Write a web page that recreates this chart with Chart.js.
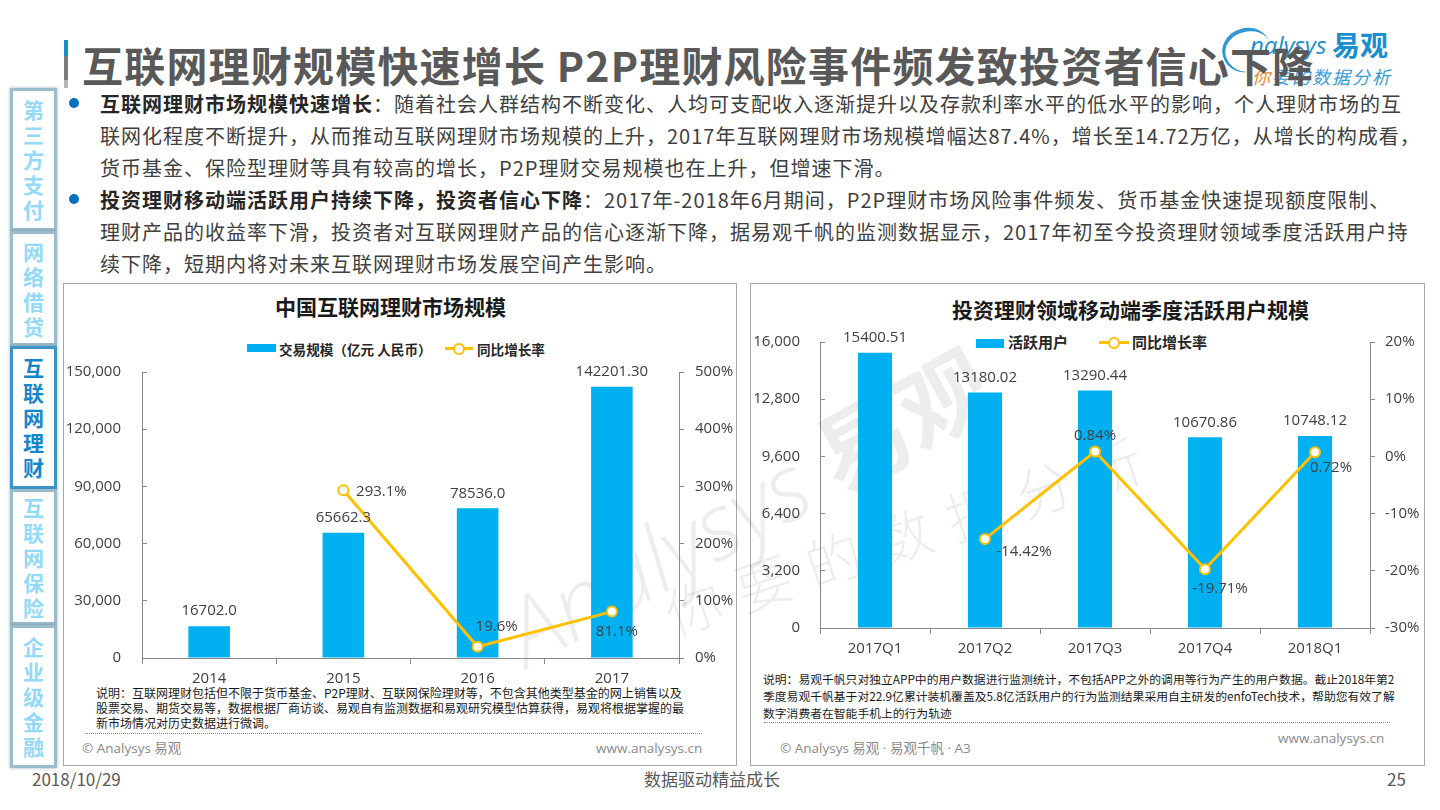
<!DOCTYPE html>
<html lang="zh-CN">
<head>
<meta charset="utf-8">
<script src="https://cdn.jsdelivr.net/npm/chart.js@4.4.1/dist/chart.umd.min.js"></script>
<style>
  html, body { margin:0; padding:0; background:#fff; }
  body { width:1440px; height:810px; position:relative; overflow:hidden;
         font-family:"Noto Sans CJK SC","Open Sans",sans-serif; color:#404040; }
  .abs { position:absolute; white-space:nowrap; }
  .title { left:82px; top:38px; font-size:41px; line-height:52px; font-weight:700; color:#595959; letter-spacing:1.2px; }
  .accent { position:absolute; left:64px; width:4px; }
  .body-line { left:100px; font-size:20px; line-height:32px; letter-spacing:1px; color:#404040; }
  .body-line b { color:#262626; font-weight:700; }
  .bullet { position:absolute; left:69px; width:10px; height:10px; border-radius:50%; background:#0070C0; }
  .tab { position:absolute; left:10px; width:41px; background:#fff; border:3px solid #9bbccb;
         box-shadow:0 0 3px rgba(90,130,150,0.6); display:flex; flex-direction:column; align-items:center; justify-content:center;
         font-size:21px; line-height:25px; font-weight:700; color:#93d9f8; }
  .tab.active { border-color:#3c95c6; color:#1487cc; }
  .panel { position:absolute; border:1px solid #a6a6a6; background:transparent; }
  .ctitle { font-size:21px; line-height:28px; font-weight:700; color:#1a1a1a; }
  .legtxt { font-weight:700; color:#262626; }
  .note { font-size:12px; line-height:15px; color:#1a1a1a; }
  .dots { position:absolute; height:0; border-top:1px dotted #8c8c8c; }
  .foot { font-size:13.5px; line-height:18px; color:#8a8a8a; font-family:"Open Sans","Noto Sans CJK SC",sans-serif; }
  .slidefoot { font-size:17px; line-height:22px; color:#595959; }
  canvas { position:absolute; z-index:2; }
  .wm { position:absolute; z-index:1; color:rgba(0,0,0,0.07); white-space:nowrap; transform-origin:0 0; }
</style>
</head>
<body>

<!-- title -->
<div class="accent" style="top:40px;height:16px;background:#1a8fd0"></div>
<div class="accent" style="top:56px;height:24px;background:#7a7a7a"></div>
<div class="accent" style="top:80px;height:8px;background:#b5b5b5"></div>

<!-- logo -->
<div class="abs" style="left:1222px;top:28px;width:46px;height:40px;border-top:4px solid #1a8fd0;border-left:3px solid #1a8fd0;border-radius:50% 50% 0 50%;transform:rotate(-18deg);opacity:0.9"></div>
<div class="abs" style="left:1250px;top:30px;font-size:24px;line-height:30px;font-style:italic;color:#1a8fd0;font-family:'Open Sans',sans-serif">nalysys</div>
<div class="abs" style="left:1332px;top:26px;font-size:28px;line-height:36px;font-weight:700;color:#1a8fd0">易观</div>
<div class="abs" style="left:1252px;top:64px;font-size:18px;line-height:24px;letter-spacing:2px;color:#3a9ad8;font-style:italic"><span style="color:#f08a1c">你</span>要的数据分析</div>

<div class="abs title">互联网理财规模快速增长 P2P理财风险事件频发致投资者信心下降</div>

<!-- sidebar -->
<div class="tab" style="top:88px;height:137px">第<br>三<br>方<br>支<br>付</div>
<div class="tab" style="top:231px;height:109px">网<br>络<br>借<br>贷</div>
<div class="tab active" style="top:346px;height:137px">互<br>联<br>网<br>理<br>财</div>
<div class="tab" style="top:489px;height:130px">互<br>联<br>网<br>保<br>险</div>
<div class="tab" style="top:625px;height:137px">企<br>业<br>级<br>金<br>融</div>

<!-- bullets -->
<div class="bullet" style="top:98px"></div>
<div class="bullet" style="top:194px"></div>
<div class="abs body-line" style="top:88px"><b>互联网理财市场规模快速增长</b>：随着社会人群结构不断变化、人均可支配收入逐渐提升以及存款利率水平的低水平的影响，个人理财市场的互</div>
<div class="abs body-line" style="top:120px">联网化程度不断提升，从而推动互联网理财市场规模的上升，2017年互联网理财市场规模增幅达87.4%，增长至14.72万亿，从增长的构成看，</div>
<div class="abs body-line" style="top:152px">货币基金、保险型理财等具有较高的增长，P2P理财交易规模也在上升，但增速下滑。</div>
<div class="abs body-line" style="top:184px"><b>投资理财移动端活跃用户持续下降，投资者信心下降</b>：2017年-2018年6月期间，P2P理财市场风险事件频发、货币基金快速提现额度限制、</div>
<div class="abs body-line" style="top:216px">理财产品的收益率下滑，投资者对互联网理财产品的信心逐渐下降，据易观千帆的监测数据显示，2017年初至今投资理财领域季度活跃用户持</div>
<div class="abs body-line" style="top:248px">续下降，短期内将对未来互联网理财市场发展空间产生影响。</div>

<!-- watermark -->
<div class="wm" style="left:482px;top:585px;transform:rotate(-29deg);font-size:92px;line-height:110px;font-family:'Open Sans',sans-serif;font-style:italic;font-weight:300">Analysys <span style="font-family:'Noto Sans CJK SC';font-style:normal;font-weight:700">易观</span></div>
<div class="wm" style="left:655px;top:580px;transform:rotate(-18.5deg);font-size:56px;line-height:70px;letter-spacing:18px;font-weight:300">你要的数据分析</div>

<!-- left panel -->
<div class="panel" style="left:63px;top:283px;width:672px;height:481px"></div>
<div class="abs ctitle" style="left:275px;top:292px">中国互联网理财市场规模</div>
<div class="abs" style="left:247px;top:344px;width:29px;height:8px;background:#00B0F0"></div>
<div class="abs legtxt" style="left:279px;top:339px;font-size:13.6px;line-height:20px">交易规模（亿元 人民币）</div>
<div class="abs" style="left:445px;top:347px;width:28px;height:3px;background:#FFC000"></div>
<div class="abs" style="left:453px;top:343px;width:8px;height:8px;border:2px solid #FFC000;border-radius:50%;background:#fff"></div>
<div class="abs legtxt" style="left:477px;top:339px;font-size:13.6px;line-height:20px">同比增长率</div>
<canvas id="c1" width="680" height="330" style="left:64px;top:360px"></canvas>
<div class="abs note" style="left:96px;top:685px">说明：互联网理财包括但不限于货币基金、P2P理财、互联网保险理财等，不包含其他类型基金的网上销售以及</div>
<div class="abs note" style="left:96px;top:700px">股票交易、期货交易等，数据根据厂商访谈、易观自有监测数据和易观研究模型估算获得，易观将根据掌握的最</div>
<div class="abs note" style="left:96px;top:715px">新市场情况对历史数据进行微调。</div>
<div class="dots" style="left:85px;top:733px;width:617px"></div>
<div class="abs foot" style="left:82px;top:739px">© Analysys 易观</div>
<div class="abs foot" style="left:596px;top:739px">www.analysys.cn</div>

<!-- right panel -->
<div class="panel" style="left:750px;top:283px;width:673px;height:481px"></div>
<div class="abs ctitle" style="left:952px;top:295px">投资理财领域移动端季度活跃用户规模</div>
<div class="abs" style="left:976px;top:339px;width:28px;height:9px;background:#00B0F0"></div>
<div class="abs legtxt" style="left:1008px;top:332px;font-size:15px;line-height:20px">活跃用户</div>
<div class="abs" style="left:1099px;top:341px;width:30px;height:3px;background:#FFC000"></div>
<div class="abs" style="left:1108px;top:337px;width:8px;height:8px;border:2px solid #FFC000;border-radius:50%;background:#fff"></div>
<div class="abs legtxt" style="left:1132px;top:332px;font-size:15px;line-height:20px">同比增长率</div>
<canvas id="c2" width="680" height="330" style="left:750px;top:330px"></canvas>
<div class="abs note" style="left:763px;top:670px;line-height:17px;font-size:11.8px">说明：易观千帆只对独立APP中的用户数据进行监测统计，不包括APP之外的调用等行为产生的用户数据。截止2018年第2</div>
<div class="abs note" style="left:763px;top:687px;line-height:17px;font-size:11.8px">季度易观千帆基于对22.9亿累计装机覆盖及5.8亿活跃用户的行为监测结果采用自主研发的enfoTech技术，帮助您有效了解</div>
<div class="abs note" style="left:763px;top:704px;line-height:17px;font-size:11.8px">数字消费者在智能手机上的行为轨迹</div>
<div class="dots" style="left:764px;top:722px;width:626px"></div>
<div class="abs foot" style="left:780px;top:739px">© Analysys 易观 · 易观千帆 · A3</div>
<div class="abs foot" style="left:1278px;top:729px">www.analysys.cn</div>

<!-- slide footer -->
<div class="abs slidefoot" style="left:32px;top:768px">2018/10/29</div>
<div class="abs slidefoot" style="left:644px;top:768px">数据驱动精益成长</div>
<div class="abs slidefoot" style="left:1387px;top:768px">25</div>

<script>
// ---------- data ----------
const years = ['2014', '2015', '2016', '2017'];
const marketSize = [16702.0, 65662.3, 78536.0, 142201.30];
const marketSizeDecimals = [1, 1, 1, 2];
const marketGrowth = [null, 293.1, 19.6, 81.1];
const marketSizeTicks = [0, 30000, 60000, 90000, 120000, 150000];
const marketGrowthTicks = [0, 100, 200, 300, 400, 500];

const quarters = ['2017Q1', '2017Q2', '2017Q3', '2017Q4', '2018Q1'];
const activeUsers = [15400.51, 13180.02, 13290.44, 10670.86, 10748.12];
const userGrowth = [null, -14.42, 0.84, -19.71, 0.72];
const userTicks = [0, 3200, 6400, 9600, 12800, 16000];
const userGrowthTicks = [-30, -20, -10, 0, 10, 20];

// ---------- styling ----------
const BAR = '#00B0F0', LINE = '#FFC000', AXIS = '#898989', TXT = '#404040';
const FONT = '"Open Sans", "Noto Sans CJK SC", sans-serif';

const valueLabels = {
  id: 'valueLabels',
  afterDatasetsDraw(chart, args, opts) {
    const ctx = chart.ctx;
    ctx.save();
    ctx.font = '15px ' + FONT;
    ctx.fillStyle = TXT;
    ctx.textAlign = 'center';
    ctx.textBaseline = 'middle';
    const bars = chart.getDatasetMeta(0);
    bars.data.forEach((el, i) => {
      const v = chart.data.datasets[0].data[i];
      ctx.fillText(opts.barText(v, i), el.x, el.y - 15);
    });
    const line = chart.getDatasetMeta(1);
    line.data.forEach((el, i) => {
      const v = chart.data.datasets[1].data[i];
      if (v === null || v === undefined) return;
      const off = opts.lineOffsets[i];
      ctx.fillText(opts.lineText(v), el.x + off[0], el.y + off[1]);
    });
    ctx.restore();
  }
};

function setTicks(arr) { return s => { s.ticks = arr.map(v => ({ value: v })); }; }
function fixWidth(w) { return s => { s.width = w; s.paddingTop = 0; s.paddingBottom = 0; }; }

function makeChart(id, cats, bars, growth, leftTicks, rightTicks, cfg) {
  return new Chart(document.getElementById(id), {
    data: {
      labels: cats,
      datasets: [
        { type: 'bar', data: bars, backgroundColor: BAR, yAxisID: 'y',
          barPercentage: 0.31, categoryPercentage: 1.0, order: 2 },
        { type: 'line', data: growth, yAxisID: 'y1', borderColor: LINE, borderWidth: 3,
          tension: 0, spanGaps: false, pointRadius: 5, pointHoverRadius: 5,
          pointBackgroundColor: '#fff', pointBorderColor: LINE, pointBorderWidth: 2, order: 1 }
      ]
    },
    plugins: [valueLabels],
    options: {
      responsive: false, animation: false, devicePixelRatio: 1,
      layout: { padding: { top: 12, left: 0, right: 0, bottom: 0 } },
      plugins: {
        legend: { display: false }, tooltip: { enabled: false },
        valueLabels: { barText: cfg.barText, lineText: cfg.lineText, lineOffsets: cfg.lineOffsets }
      },
      scales: {
        x: {
          grid: { display: true, drawOnChartArea: false, drawTicks: true, tickLength: 6, color: AXIS, offset: true },
          border: { color: AXIS, width: 1 },
          ticks: { color: TXT, font: { size: 15, family: FONT }, padding: 6, maxRotation: 0 },
          afterFit: s => { s.height = 32; s.paddingLeft = 0; s.paddingRight = 0; }
        },
        y: {
          position: 'left', min: leftTicks[0], max: leftTicks[leftTicks.length - 1],
          grid: { drawOnChartArea: false, drawTicks: true, tickLength: -5, color: AXIS },
          border: { color: AXIS, width: 1 },
          ticks: { color: TXT, font: { size: 15, family: FONT }, padding: cfg.leftPad,
                   callback: v => v.toLocaleString('en-US') },
          afterBuildTicks: setTicks(leftTicks),
          afterFit: fixWidth(cfg.leftW)
        },
        y1: {
          position: 'right', min: rightTicks[0], max: rightTicks[rightTicks.length - 1],
          grid: { drawOnChartArea: false, drawTicks: true, tickLength: 5, color: AXIS },
          border: { color: AXIS, width: 1 },
          ticks: { color: TXT, font: { size: 15, family: FONT }, padding: cfg.rightPad,
                   callback: v => v + '%' },
          afterBuildTicks: setTicks(rightTicks),
          afterFit: fixWidth(cfg.rightW)
        }
      }
    }
  });
}

function draw() {
  makeChart('c1', years, marketSize, marketGrowth, marketSizeTicks, marketGrowthTicks, {
    leftW: 78, rightW: 65, leftPad: 26, rightPad: 11,
    barText: (v, i) => v.toFixed(marketSizeDecimals[i]),
    lineText: v => v.toFixed(1) + '%',
    lineOffsets: [[0, 0], [38, 1], [19, -20], [5, 20]]
  });
  makeChart('c2', quarters, activeUsers, userGrowth, userTicks, userGrowthTicks, {
    leftW: 70, rightW: 60, leftPad: 25, rightPad: 10,
    barText: v => v.toFixed(2),
    lineText: v => v.toFixed(2) + '%',
    lineOffsets: [[0, 0], [39, 13], [0, -16], [15, 20], [16, 15]]
  });
}
if (document.fonts && document.fonts.ready) { document.fonts.ready.then(draw); } else { draw(); }
</script>
</body>
</html>
